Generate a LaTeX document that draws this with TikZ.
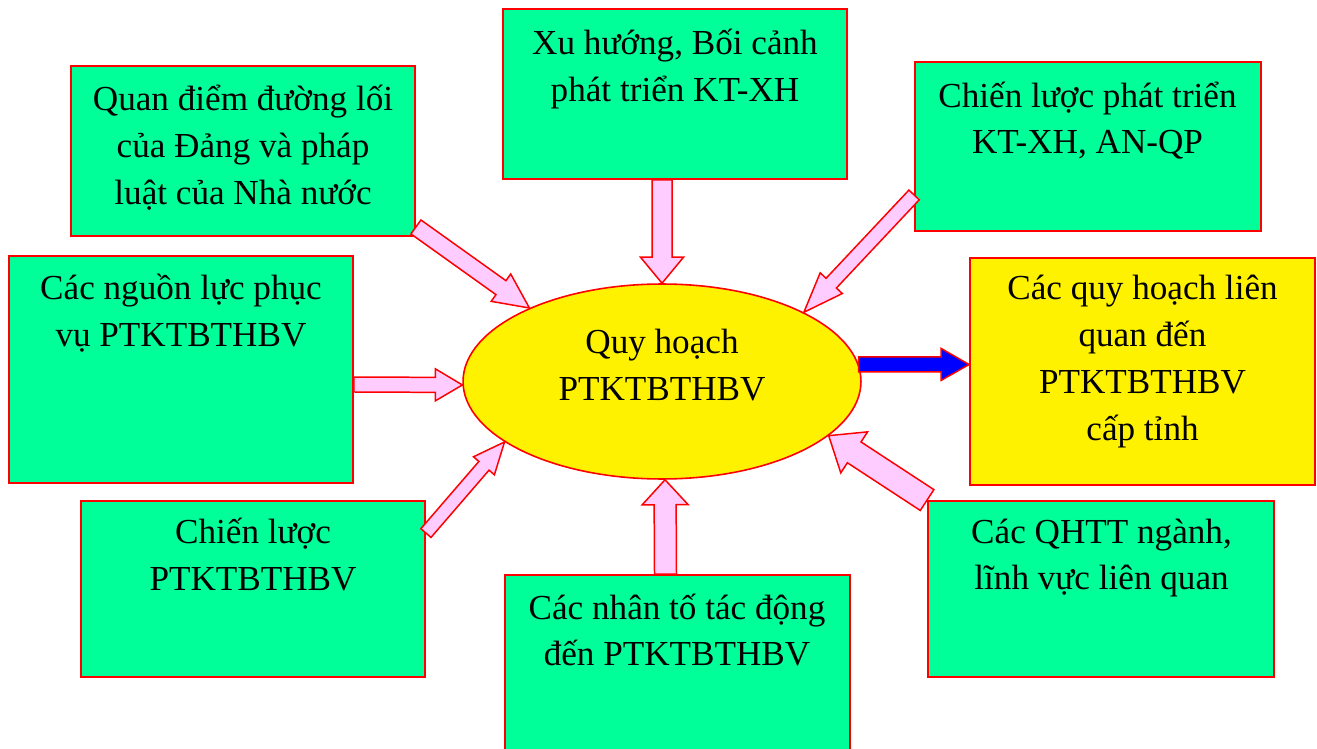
\documentclass[tikz,border=0pt]{standalone}
\usepackage{fontspec}
\setmainfont{Liberation Serif}
\usetikzlibrary{shapes.geometric,calc,positioning}

\definecolor{boxgreen}{HTML}{00FF99}
\definecolor{arrowpink}{HTML}{FFCCFF}

\newcommand\tstrut{\rule[-7pt]{0pt}{18.5pt}}

\tikzset{
  gbox/.style={rectangle, draw=red, fill=boxgreen, line width=1.1pt, inner sep=0pt},
  ybox/.style={gbox, fill=yellow},
  txt/.style={align=center, inner sep=0pt, font=\fontsize{20}{26.6}\selectfont,
    execute at begin node=\tstrut, execute at end node=\tstrut},
  pinkarrow/.style={draw=red, fill=arrowpink, line width=0.85pt},
  bluearrow/.style={draw=red, fill=blue, line width=0.85pt},
}

% block arrow: [style]{tail}{tip}{half shaft}{half head}{head length}
\newcommand\blockarrow[6][pinkarrow]{%
  \path (#2) coordinate (ba-t) (#3) coordinate (ba-p);
  \path ($(ba-p)!#6!(ba-t)$) coordinate (ba-h);
  \draw[#1] ($(ba-t)!#4!90:(ba-p)$) -- ($(ba-h)!#4!-90:(ba-t)$)
    -- ($(ba-h)!#5!-90:(ba-t)$) -- (ba-p) -- ($(ba-h)!#5!90:(ba-t)$)
    -- ($(ba-h)!#4!90:(ba-t)$) -- ($(ba-t)!#4!-90:(ba-p)$) -- cycle;
}

\begin{document}
\begin{tikzpicture}[x=0.02cm, y=-0.02cm]
		\useasboundingbox (0,0) rectangle (1317,749);
		\clip (0,0) rectangle (1317,749);

		% boxes
		\node[gbox, minimum width=6.88cm, minimum height=3.40cm] at (243, 151) (qd) {};
		\node[gbox, minimum width=6.88cm, minimum height=3.40cm] at (675, 94) (xh) {};
		\node[gbox, minimum width=6.92cm, minimum height=3.38cm] at (1088, 146.5) (cl) {};
		\node[gbox, minimum width=6.88cm, minimum height=4.54cm] at (181, 369.5) (nl) {};
		\node[ybox, minimum width=6.90cm, minimum height=4.54cm] at (1142.5, 371.5) (lq) {};
		\node[gbox, minimum width=6.88cm, minimum height=3.52cm] at (253, 589) (cp) {};
		\node[gbox, minimum width=6.90cm, minimum height=3.70cm] at (677.5, 667.5) (nt) {};
		\node[gbox, minimum width=6.92cm, minimum height=3.52cm] at (1101, 589) (qh) {};

		% centre
		\node[ellipse, draw=red, fill=yellow, line width=0.9pt, inner sep=0pt,
		  minimum width=7.96cm, minimum height=3.90cm] at (662, 381.5) (Q) {};

		% texts
		\node[txt] at (243, 151) (qd-t) {Quan điểm đường lối\\của Đảng và pháp\\luật của Nhà nước};
		\node[txt] at (675, 71.5) (xh-t) {Xu hướng, Bối cảnh\\phát triển KT-XH};
		\node[txt] at (1087.5, 124) (cl-t) {Chiến lược phát triển\\KT-XH, AN-QP};
		\node[txt] at (181, 316.5) (nl-t) {Các nguồn lực phục\\vụ PTKTBTHBV};
		\node[txt] at (662, 371) (Q-t) {Quy hoạch\\PTKTBTHBV};
		\node[txt] at (1142.5, 364) (lq-t) {Các quy hoạch liên\\quan đến\\PTKTBTHBV\\cấp tỉnh};
		\node[txt] at (253, 560.5) (cp-t) {Chiến lược\\PTKTBTHBV};
		\node[txt] at (677, 636) (nt-t) {Các nhân tố tác động\\đến PTKTBTHBV};
		\node[txt] at (1101.5, 560.5) (qh-t) {Các QHTT ngành,\\lĩnh vực liên quan};

		% arrows
		\blockarrow{$(qd.south east)+(0,-10)$}{Q.151}{0.172cm}{0.336cm}{0.70cm}
		\blockarrow{$(xh.south)+(-13,0)$}{Q.north}{0.20cm}{0.43cm}{0.52cm}
		\blockarrow{$(cl.south west)+(0,-37)$}{Q.26}{0.142cm}{0.303cm}{0.80cm}
		\blockarrow{$(nl.east)+(0,15)$}{Q.181}{0.15cm}{0.32cm}{0.54cm}
		\blockarrow{$(cp.north east)+(0,33)$}{Q.201}{0.134cm}{0.276cm}{0.63cm}
		\blockarrow{$(nt.north)+(-12,0)$}{$(Q.south)+(3,0)$}{0.22cm}{0.46cm}{0.50cm}
		\blockarrow{qh.north west}{Q.-18}{0.249cm}{0.49cm}{0.61cm}
		\blockarrow[bluearrow]{Q.5}{$(lq.west)+(0,-7)$}{0.15cm}{0.32cm}{0.56cm}
\end{tikzpicture}
\end{document}
